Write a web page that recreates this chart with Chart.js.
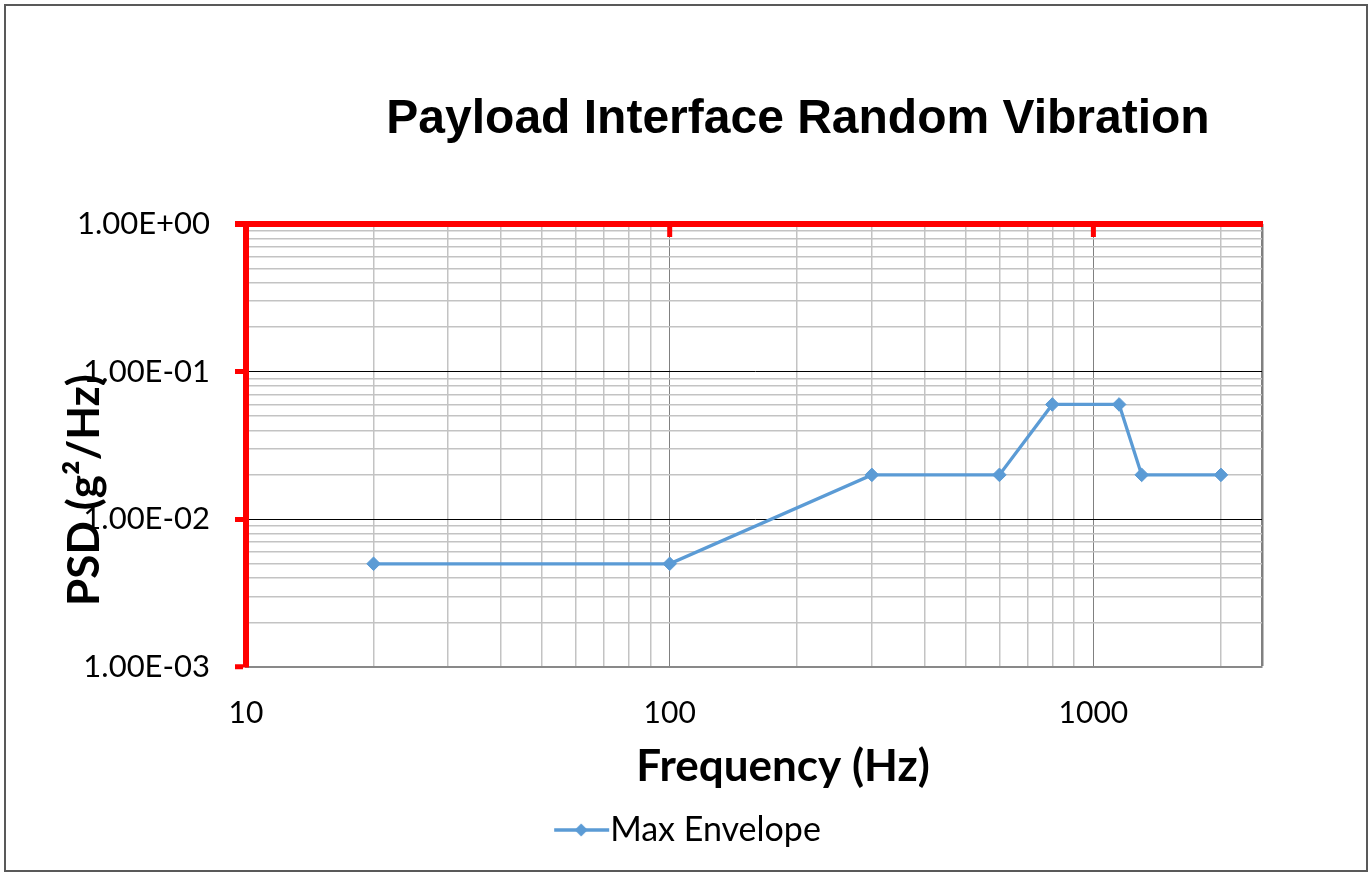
<!DOCTYPE html>
<html>
<head>
<meta charset="utf-8">
<script src="https://cdn.jsdelivr.net/npm/chart.js@4.4.1/dist/chart.umd.min.js"></script>
<style>
html,body{margin:0;padding:0;background:#fff;}
#wrap{position:absolute;left:0;top:0;width:1371px;height:875px;}
</style>
</head>
<body>
<div id="wrap"><canvas id="c" width="1371" height="875"></canvas></div>
<script>
// ---- data ----
const frequencyHz = [20, 100, 300, 600, 800, 1150, 1300, 2000];
const psdValues   = [0.005, 0.005, 0.02, 0.02, 0.06, 0.06, 0.02, 0.02];
const seriesName  = 'Max Envelope';
const chartTitle  = 'Payload Interface Random Vibration';
const xAxisTitle  = 'Frequency (Hz)';
const yAxisTitle  = 'PSD (g\u00B2/Hz)';
const xMin = 10, xMax = 2500;
const yMin = 0.001, yMax = 1;
const xTickValues = [10,20,30,40,50,60,70,80,90,100,200,300,400,500,600,700,800,900,1000,2000,2500];
const xLabelValues = [10, 100, 1000];
const yTickValues = [0.001,0.002,0.003,0.004,0.005,0.006,0.007,0.008,0.009,
                     0.01,0.02,0.03,0.04,0.05,0.06,0.07,0.08,0.09,
                     0.1,0.2,0.3,0.4,0.5,0.6,0.7,0.8,0.9,1];
const yLabelValues = [0.001, 0.01, 0.1, 1];

const BLUE = '#5b9bd5';
const RED = '#ff0000';

function isIn(v, arr){ return arr.some(a => Math.abs(a - v) / a < 1e-6); }
function sci(v){
  const e = Math.round(Math.log10(v));
  const m = v / Math.pow(10, e);
  const sign = e < 0 ? '-' : '+';
  const ae = Math.abs(e);
  return m.toFixed(2) + 'E' + sign + (ae < 10 ? '0' + ae : '' + ae);
}

// legend symbol: line with diamond (drawn into an image used as the legend point style)
const sym = document.createElement('canvas');
sym.width = 80; sym.height = 16;
(function(){
  const g = sym.getContext('2d');
  g.strokeStyle = BLUE; g.lineWidth = 3.3;
  g.beginPath(); g.moveTo(23, 8); g.lineTo(78, 8); g.stroke();
  g.fillStyle = BLUE;
  const cx = 50;
  g.beginPath(); g.moveTo(cx-6.5, 8); g.lineTo(cx, 8-6.5); g.lineTo(cx+6.5, 8); g.lineTo(cx, 8+6.5); g.closePath(); g.fill();
})();

const legendShift = {
  id: 'legendShift',
  afterLayout(chart){
    const lg = chart.legend;
    if (lg) { lg.left += 49; lg.right += 49; }
  }
};

const decor = {
  id: 'decor',
  beforeDraw(chart){
    const ctx = chart.ctx;
    ctx.save();
    ctx.fillStyle = '#fff';
    ctx.fillRect(0, 0, chart.width, chart.height);
    ctx.strokeStyle = '#595959';
    ctx.lineWidth = 2;
    ctx.strokeRect(5, 5, 1362, 866);
    ctx.restore();
  },
  afterDraw(chart){
    const ctx = chart.ctx, a = chart.chartArea, xs = chart.scales.x;
    ctx.save();
    // top red border with inward ticks
    ctx.strokeStyle = RED;
    ctx.lineWidth = 6;
    ctx.beginPath(); ctx.moveTo(a.left - 11, a.top); ctx.lineTo(a.right + 1, a.top); ctx.stroke();
    ctx.lineWidth = 5;
    [100, 1000].forEach(v => {
      const px = xs.getPixelForValue(v);
      ctx.beginPath(); ctx.moveTo(px, a.top); ctx.lineTo(px, a.top + 13); ctx.stroke();
    });
    // titles
    ctx.fillStyle = '#000';
    ctx.textAlign = 'center';
    ctx.textBaseline = 'alphabetic';
    ctx.font = 'bold 48px "Liberation Sans", Arial, sans-serif';
    ctx.fillText(chartTitle, 798, 133);
    ctx.font = 'bold 44px Lato, sans-serif';
    ctx.fillText(xAxisTitle, 783, 781);
    ctx.translate(99, 490);
    ctx.rotate(-Math.PI / 2);
    ctx.fillText(yAxisTitle, 0, 0);
    ctx.restore();
  }
};

function build(){
  new Chart(document.getElementById('c'), {
    type: 'scatter',
    data: {
      datasets: [{
        label: seriesName,
        data: frequencyHz.map((f, i) => ({x: f, y: psdValues[i]})),
        showLine: true,
        borderColor: BLUE,
        backgroundColor: BLUE,
        borderWidth: 3.3,
        pointStyle: 'rectRot',
        pointRadius: 6.8,
        pointHoverRadius: 6.8,
        pointBackgroundColor: BLUE,
        pointBorderColor: BLUE,
        pointBorderWidth: 1
      }]
    },
    plugins: [decor, legendShift],
    options: {
      responsive: false,
      animation: false,
      events: [],
      layout: { padding: { left: 10, right: 109, top: 224, bottom: 18 } },
      plugins: {
        title: { display: false },
        tooltip: { enabled: false },
        legend: {
          display: true,
          position: 'bottom',
          labels: {
            usePointStyle: true,
            pointStyle: sym,
            pointStyleWidth: 44,
            color: '#000',
            font: { family: 'Lato', size: 34 },
            padding: 10
          }
        }
      },
      scales: {
        x: {
          type: 'logarithmic',
          min: xMin, max: xMax,
          position: 'bottom',
          afterBuildTicks(s){ s.ticks = xTickValues.map(v => ({value: v, major: isIn(v, xLabelValues)})); },
          afterFit(s){ s.height = 136; },
          border: { display: true, color: '#898989', width: 2 },
          grid: {
            drawTicks: false,
            color(ctx){
              const v = ctx.tick && ctx.tick.value;
              if (v === undefined) return 'transparent';
              if (Math.abs(v - 10) < 1e-9) return 'transparent';
              if (Math.abs(v - 2500) < 1e-9) return '#808080';
              if (isIn(v, [100, 1000])) return '#808080';
              return '#c3c3c3';
            },
            lineWidth(ctx){
              const v = ctx.tick && ctx.tick.value;
              if (v !== undefined && Math.abs(v - 2500) < 1e-9) return 2.5;
              if (v !== undefined && isIn(v, [100, 1000])) return 1;
              return 1.5;
            }
          },
          ticks: {
            autoSkip: false,
            maxRotation: 0,
            padding: 28,
            color: '#000',
            font: { family: 'Lato', size: 30 },
            callback(v){ return isIn(v, xLabelValues) ? String(v) : ''; }
          },
          title: { display: false }
        },
        y: {
          type: 'logarithmic',
          min: yMin, max: yMax,
          position: 'left',
          afterBuildTicks(s){ s.ticks = yTickValues.map(v => ({value: v, major: isIn(v, yLabelValues)})); },
          afterFit(s){ s.width = 236; },
          border: { display: true, color: RED, width: 6 },
          grid: {
            drawTicks: true,
            tickLength: 11,
            tickWidth: 5,
            tickColor(ctx){
              const v = ctx.tick && ctx.tick.value;
              return (v !== undefined && isIn(v, yLabelValues)) ? RED : 'transparent';
            },
            color(ctx){
              const v = ctx.tick && ctx.tick.value;
              if (v === undefined) return 'transparent';
              if (isIn(v, [0.001, 1])) return 'transparent';
              if (isIn(v, [0.01, 0.1])) return '#000';
              return '#c3c3c3';
            },
            lineWidth(ctx){
              const v = ctx.tick && ctx.tick.value;
              if (v !== undefined && isIn(v, [0.01, 0.1])) return 1;
              return 1.5;
            }
          },
          ticks: {
            autoSkip: false,
            padding: 25,
            color: '#000',
            font: { family: 'Lato', size: 31 },
            callback(v){ return isIn(v, yLabelValues) ? sci(v) : ''; }
          },
          title: { display: false }
        }
      }
    }
  });
}

Promise.all([
  document.fonts.load('31px Lato'),
  document.fonts.load('bold 44px Lato'),
  document.fonts.load('bold 48px "Liberation Sans"')
]).then(build, build);
</script>
</body>
</html>
